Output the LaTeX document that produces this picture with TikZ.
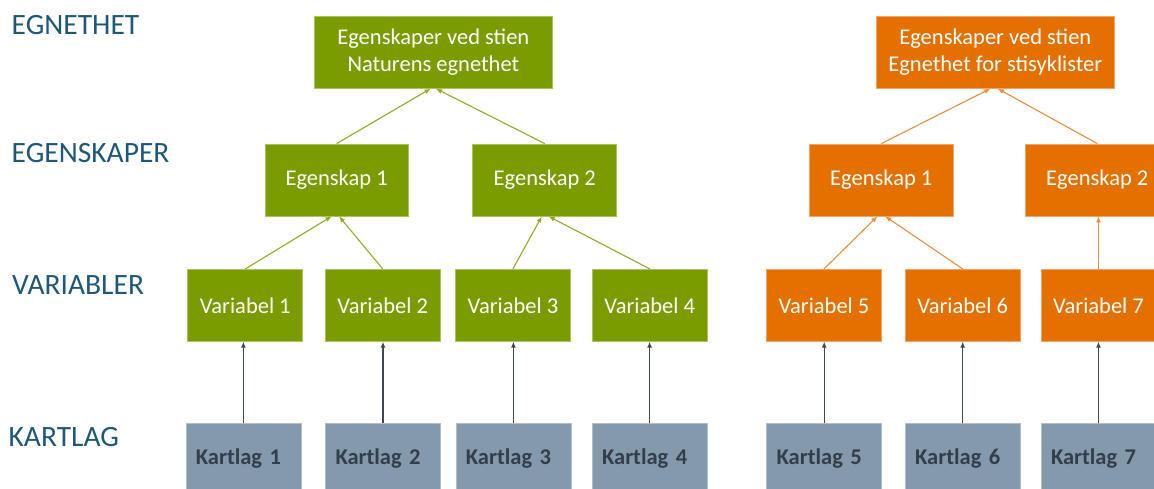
\documentclass[tikz,border=0pt]{standalone}
\usepackage{fontspec}
\setmainfont{Carlito}
\usetikzlibrary{arrows.meta}
\definecolor{gfill}{RGB}{122,156,1}
\definecolor{gedge}{RGB}{170,195,90}
\definecolor{ofill}{RGB}{228,112,0}
\definecolor{oedge}{RGB}{240,165,100}
\definecolor{kfill}{RGB}{132,153,172}
\definecolor{kedge}{RGB}{175,190,205}
\definecolor{ktext}{RGB}{50,63,75}
\definecolor{lbl}{RGB}{30,88,120}
\definecolor{gln}{RGB}{140,172,40}
\definecolor{oln}{RGB}{238,140,60}
\definecolor{kln}{RGB}{60,72,84}
\begin{document}
\begin{tikzpicture}[x=1pt,y=-1pt,
  box/.style={rectangle, inner sep=0pt, minimum height=72pt, text=white,
    font=\fontsize{22.5}{27}\selectfont, align=center, line width=0.8pt},
  gbox/.style={box, fill=gfill, draw=gedge},
  obox/.style={box, fill=ofill, draw=oedge},
  kbox/.style={rectangle, fill=kfill, draw=kedge, line width=0.8pt, minimum height=72pt,
    text width=95pt, inner xsep=10pt, inner ysep=0pt, align=left, text=ktext,
    font=\bfseries\fontsize{22.5}{27}\selectfont},
  lvl/.style={anchor=west, inner sep=0pt, text=lbl, font=\fontsize{29.5}{35}\selectfont},
  tip/.style={-{Latex[length=6pt,width=5pt]}},
  gconn/.style={draw=gln, line width=1.1pt, tip},
  oconn/.style={draw=oln, line width=1.1pt, tip},
  kconn/.style={draw=kln, line width=1.1pt, tip}
]
\useasboundingbox (0,0) rectangle (1154,488);
\clip (0,0) rectangle (1154,488);

% level labels
\node[lvl] (L1) at (11.5,25) {EGNETHET};
\node[lvl] (L2) at (11.5,153) {EGENSKAPER};
\node[lvl] (L3) at (12,285) {VARIABLER};
\node[lvl] (L4) at (8.4,437) {KARTLAG};

% top boxes
\node[gbox, minimum width=237.5pt] (TG) at (433.3,52.3) {Egenskaper ved stien\\Naturens egnethet};
\node[obox, minimum width=237.5pt] (TO) at (995.3,52.3) {Egenskaper ved stien\\Egnethet for stisyklister};

% egenskaper
\node[gbox, minimum width=143pt] (E1g) at (336.6,180) {Egenskap 1};
\node[gbox, minimum width=144pt] (E2g) at (544.8,180) {Egenskap 2};
\node[obox, minimum width=144pt] (E1o) at (881.3,180) {Egenskap 1};
\node[obox, minimum width=144pt] (E2o) at (1097.3,180) {Egenskap 2};

% variabler
\node[gbox, minimum width=115pt] (V1) at (245.3,305.3) {Variabel 1};
\node[gbox, minimum width=115pt] (V2) at (382.7,305.3) {Variabel 2};
\node[gbox, minimum width=115pt] (V3) at (512.9,305.3) {Variabel 3};
\node[gbox, minimum width=115pt] (V4) at (649.7,305.3) {Variabel 4};
\node[obox, minimum width=115pt] (V5) at (824,305.3) {Variabel 5};
\node[obox, minimum width=115pt] (V6) at (962.7,305.3) {Variabel 6};
\node[obox, minimum width=115pt] (V7) at (1098.5,305.3) {Variabel 7};

% kartlag
\node[kbox] (K1) at (243.4,459) {Kartlag 1};
\node[kbox] (K2) at (383,459) {Kartlag 2};
\node[kbox] (K3) at (513.4,459) {Kartlag 3};
\node[kbox] (K4) at (649.6,459) {Kartlag 4};
\node[kbox] (K5) at (824.2,459) {Kartlag 5};
\node[kbox] (K6) at (962.7,459) {Kartlag 6};
\node[kbox] (K7) at (1098.5,459) {Kartlag 7};

% green connectors
\draw[gconn] (E1g.north) -- ([xshift=-2.8pt]TG.south);
\draw[gconn] (E2g.north) -- ([xshift=2.7pt]TG.south);
\draw[gconn] (V1.north) -- ([xshift=-5pt]E1g.south);
\draw[gconn] (V2.north) -- ([xshift=2.5pt]E1g.south);
\draw[gconn] (V3.north) -- ([xshift=-3pt]E2g.south);
\draw[gconn] (V4.north) -- ([xshift=4pt]E2g.south);

% orange connectors
\draw[oconn] (E1o.north) -- ([xshift=-5pt]TO.south);
\draw[oconn] (E2o.north) -- ([xshift=2.5pt]TO.south);
\draw[oconn] (V5.north) -- ([xshift=-4pt]E1o.south);
\draw[oconn] (V6.north) -- ([xshift=4pt]E1o.south);
\draw[oconn] (V7.north) -- (V7.north |- E2o.south);

% kartlag connectors
\foreach \i in {1,...,7}{
  \draw[kconn] (K\i.north) -- (K\i.north |- V\i.south);
}
\end{tikzpicture}
\end{document}
